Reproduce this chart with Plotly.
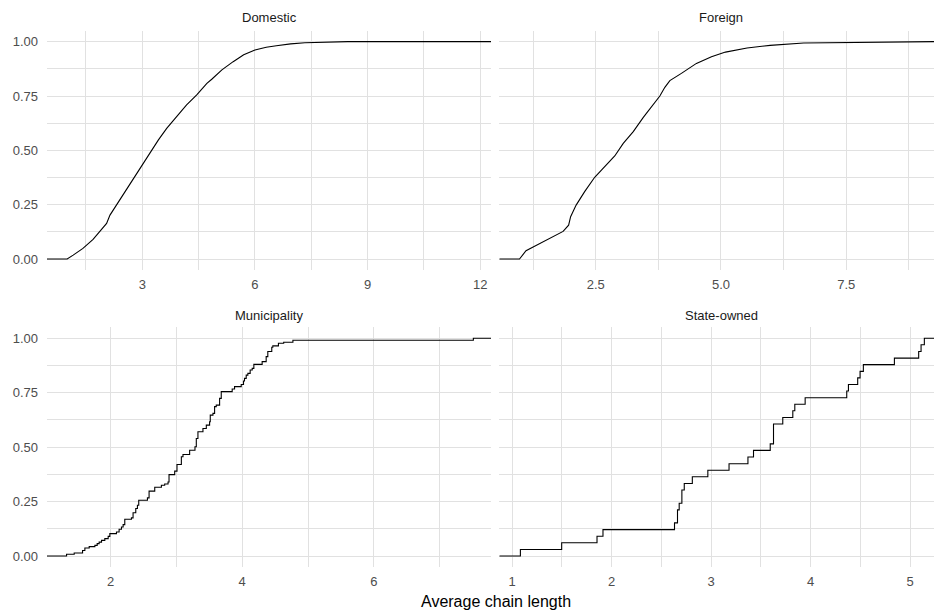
import plotly.graph_objects as go

# ---- ECDF of average chain length, by ownership type ----
# Domestic and Foreign have many firms, so their ECDFs read as smooth curves.
domestic_x = [1.0, 1.16, 1.42, 1.69, 1.91, 2.05, 2.14, 2.40, 2.67, 2.94, 3.20, 3.43, 3.65, 3.87,
              4.18, 4.45, 4.72, 4.85, 5.12, 5.42, 5.70, 6.0, 6.30, 6.57, 6.95, 7.33, 8.46, 8.47,
              11.76]
domestic_y = [0.0, 0.018, 0.049, 0.090, 0.133, 0.164, 0.202, 0.271, 0.348, 0.417, 0.486, 0.548,
              0.601, 0.647, 0.709, 0.755, 0.808, 0.827, 0.870, 0.908, 0.940, 0.962, 0.974, 0.981,
              0.990, 0.995, 0.997, 1.0, 1.0]

foreign_x = [0.98, 1.11, 1.35, 1.65, 1.85, 1.96, 2.0, 2.11, 2.28, 2.48, 2.68, 2.88, 3.05, 3.25,
             3.45, 3.61, 3.78, 3.88, 3.98, 4.21, 4.51, 4.81, 5.09, 5.52, 5.98, 6.65, 8.0, 8.01, 8.86]
foreign_y = [0.0, 0.038, 0.067, 0.100, 0.127, 0.156, 0.195, 0.248, 0.310, 0.376, 0.425, 0.474,
             0.532, 0.586, 0.652, 0.701, 0.750, 0.790, 0.821, 0.854, 0.900, 0.931, 0.952, 0.971,
             0.983, 0.994, 0.997, 1.0, 1.0]

# Municipality and State-owned are small groups: step positions and ECDF levels after each step.
municipality_x = [1.333, 1.449, 1.576, 1.611, 1.677, 1.763, 1.798, 1.828, 1.864, 1.914, 1.965,
                  1.990, 2.091, 2.131, 2.167, 2.192, 2.217, 2.318, 2.343, 2.384, 2.409, 2.429,
                  2.561, 2.586, 2.672, 2.773, 2.823, 2.874, 2.889, 2.975, 3.010, 3.076, 3.101,
                  3.202, 3.283, 3.303, 3.328, 3.404, 3.455, 3.505, 3.515, 3.556, 3.581, 3.606,
                  3.657, 3.682, 3.848, 3.884, 3.985, 4.020, 4.035, 4.061, 4.086, 4.121, 4.152,
                  4.177, 4.303, 4.364, 4.389, 4.449, 4.465, 4.55, 4.63, 4.77, 7.51]
municipality_y = [0.008, 0.014, 0.025, 0.037, 0.043, 0.049, 0.057, 0.064, 0.072, 0.080, 0.090,
                  0.103, 0.110, 0.123, 0.133, 0.144, 0.169, 0.175, 0.199, 0.218, 0.233, 0.256,
                  0.267, 0.298, 0.316, 0.325, 0.331, 0.340, 0.374, 0.390, 0.420, 0.456, 0.466,
                  0.486, 0.502, 0.540, 0.571, 0.586, 0.601, 0.617, 0.647, 0.655, 0.686, 0.693,
                  0.724, 0.755, 0.767, 0.778, 0.788, 0.804, 0.816, 0.831, 0.839, 0.854, 0.862,
                  0.880, 0.893, 0.916, 0.939, 0.959, 0.965, 0.977, 0.982, 0.991, 1.0]

state_x = [1.084, 1.499, 1.854, 1.914, 2.633, 2.663, 2.680, 2.707, 2.731, 2.812, 2.968, 3.181,
           3.371, 3.427, 3.595, 3.628, 3.721, 3.822, 3.842, 3.946, 4.364, 4.381, 4.474, 4.498,
           4.531, 4.843, 5.087, 5.111, 5.144]
state_y = [0.030, 0.061, 0.091, 0.121, 0.152, 0.212, 0.242, 0.303, 0.333, 0.364, 0.394, 0.424,
           0.455, 0.485, 0.515, 0.606, 0.636, 0.667, 0.697, 0.727, 0.758, 0.788, 0.818, 0.848,
           0.879, 0.909, 0.939, 0.970, 1.0]

panel_titles = ["Domestic", "Foreign", "Municipality", "State-owned"]
x_title = "Average chain length"

# x ranges of each facet (free x scales)
x_ranges = [[0.463, 12.285], [0.577, 9.25], [1.036, 7.778], [0.872, 5.241]]
x_major = [3, 2.5, 2, 1]
x_formats = ["d", ".1f", "d", "d"]
y_ticks = [0, 0.25, 0.5, 0.75, 1.0]

W, H = 934, 611
left_dom = [47 / W, 491 / W]
right_dom = [499.3 / W, 1.0]
top_dom = [1 - 269.9 / H, 1 - 30.8 / H]
bot_dom = [1 - 566.9 / H, 1 - 327.4 / H]

FONT = "Liberation Sans, Arial, sans-serif"
GRID = "#e1e1e1"

fig = go.Figure()

series = [
    (domestic_x, domestic_y, "linear"),
    (foreign_x, foreign_y, "linear"),
    (municipality_x, municipality_y, "hv"),
    (state_x, state_y, "hv"),
]

for i, (xs, ys, shape) in enumerate(series):
    lo, hi = x_ranges[i]
    # stat_ecdf-style padding: flat at 0 before the first value and at 1 after the last
    px = [lo] + list(xs) + [hi]
    py = [0.0] + list(ys) + [ys[-1]]
    if shape == "hv":
        px = [lo, xs[0]] + list(xs) + [hi]
        py = [0.0, 0.0] + list(ys) + [ys[-1]]
    suffix = "" if i == 0 else str(i + 1)
    fig.add_trace(go.Scatter(
        x=px, y=py, mode="lines", line=dict(color="black", width=1.1, shape=shape),
        xaxis="x" + suffix, yaxis="y" + suffix, showlegend=False, hoverinfo="skip"))

doms = [(left_dom, top_dom), (right_dom, top_dom), (left_dom, bot_dom), (right_dom, bot_dom)]
layout = {}
for i, (xd, yd) in enumerate(doms):
    suffix = "" if i == 0 else str(i + 1)
    layout["xaxis" + suffix] = dict(
        domain=xd, range=x_ranges[i], anchor="y" + suffix,
        tick0=0, dtick=x_major[i], tickformat=x_formats[i],
        ticks="", showline=False, zeroline=False,
        showgrid=True, gridcolor=GRID, gridwidth=1.1,
        minor=dict(dtick=x_major[i] / 2, tick0=0, showgrid=True, gridcolor=GRID, gridwidth=1),
        tickfont=dict(family=FONT, size=13, color="#4d4d4d"),
        ticklabelstandoff=5, fixedrange=True,
    )
    layout["yaxis" + suffix] = dict(
        domain=yd, range=[-0.05, 1.05], anchor="x" + suffix,
        tickvals=y_ticks, tickformat=".2f", ticks="", showline=False, zeroline=False,
        showgrid=True, gridcolor=GRID, gridwidth=1.1,
        minor=dict(dtick=0.125, tick0=0, showgrid=True, gridcolor=GRID, gridwidth=1),
        showticklabels=(i % 2 == 0),
        tickfont=dict(family=FONT, size=13, color="#4d4d4d"),
        ticklabelstandoff=8, fixedrange=True,
    )

annotations = []
strip_pos = [(269 / W, 1 - 18 / H), (721 / W, 1 - 18 / H),
             (269 / W, 1 - 315 / H), (721 / W, 1 - 315 / H)]
for title, (ax, ay) in zip(panel_titles, strip_pos):
    annotations.append(dict(text=title, x=ax, y=ay, xref="paper", yref="paper",
                            xanchor="center", yanchor="middle", showarrow=False,
                            font=dict(family=FONT, size=13, color="#1a1a1a")))
annotations.append(dict(text=x_title, x=495.5 / W, y=1 - 601.7 / H, xref="paper", yref="paper",
                        xanchor="center", yanchor="middle", showarrow=False,
                        font=dict(family=FONT, size=16, color="black")))

fig.update_layout(
    width=W, height=H, margin=dict(l=0, r=0, t=0, b=0),
    paper_bgcolor="white", plot_bgcolor="white",
    annotations=annotations, **layout,
)

fig.write_html("out.html", config={"displayModeBar": False})
